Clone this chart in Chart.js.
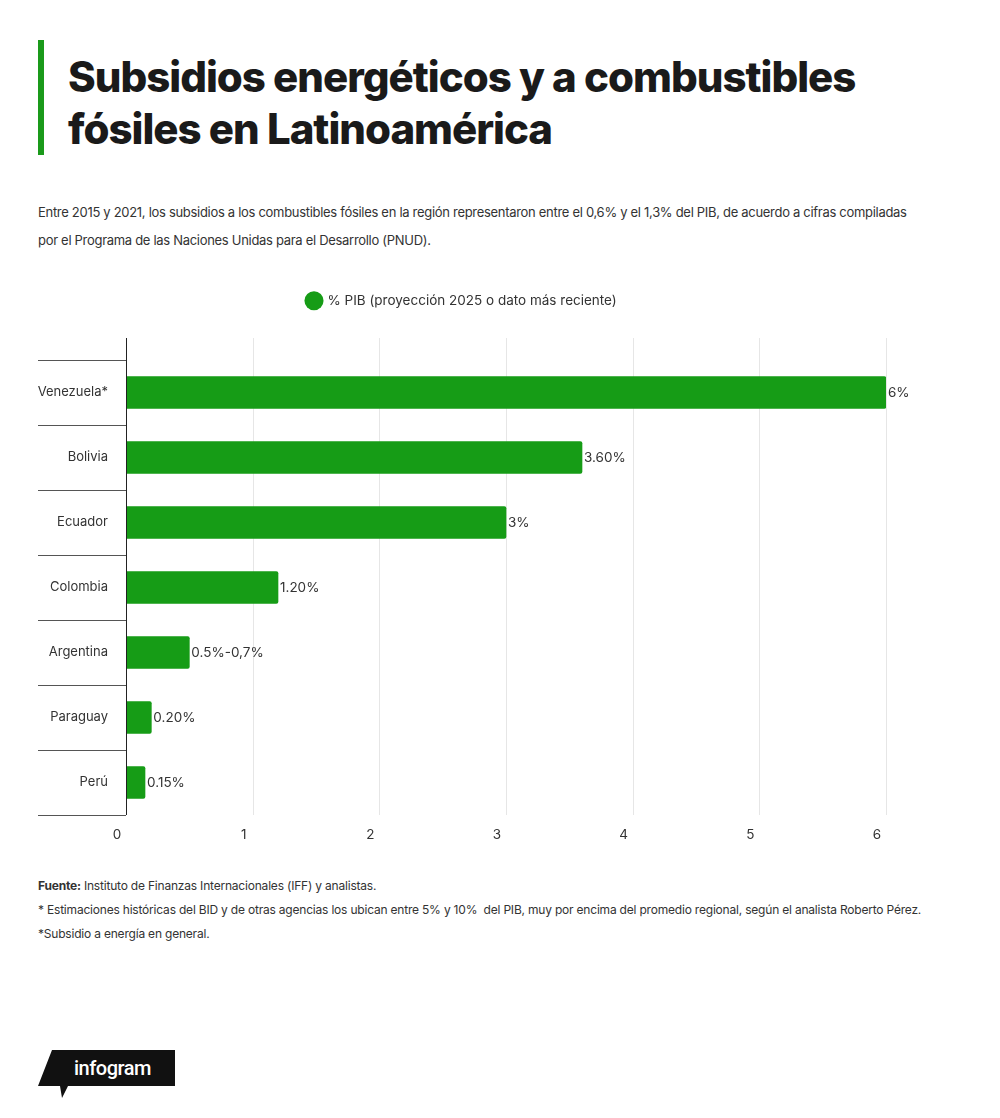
<!DOCTYPE html>
<html><head><meta charset="utf-8">
<script src="https://cdn.jsdelivr.net/npm/chart.js@4"></script>
<style>
body{margin:0;background:#fff;font-family:Inter,"Noto Sans",sans-serif;color:#222;width:1000px;height:1118px;position:relative;overflow:hidden}
.bar{position:absolute;left:38px;top:40px;width:6px;height:115px;background:#1a9a1a}
h1{position:absolute;left:68px;top:51px;margin:0;font-size:42px;line-height:52px;font-weight:800;letter-spacing:-1px;color:#1a1a1a}
.sub{position:absolute;left:38px;top:198px;width:920px;font-size:13px;line-height:28px;color:#333;letter-spacing:-0.3px}
.foot{position:absolute;left:38px;top:874px;font-size:12px;line-height:24px;color:#333;letter-spacing:-0.2px}
#wrap{position:absolute;left:0;top:280px;width:1000px;height:570px}
.logo{position:absolute;left:38px;top:1050px}
</style></head><body>
<div class="bar"></div>
<h1>Subsidios energéticos y a combustibles<br>fósiles en Latinoamérica</h1>
<div class="sub">Entre 2015 y 2021, los subsidios a los combustibles fósiles en la región representaron entre el 0,6% y el 1,3% del PIB, de acuerdo a cifras compiladas<br>por el Programa de las Naciones Unidas para el Desarrollo (PNUD).</div>
<div id="wrap"><canvas id="c"></canvas></div>
<div class="foot"><b>Fuente:</b> Instituto de Finanzas Internacionales (IFF) y analistas.<br>* Estimaciones históricas del BID y de otras agencias los ubican entre 5% y 10%&nbsp; del PIB, muy por encima del promedio regional, según el analista Roberto Pérez.<br>*Subsidio a energía en general.</div>
<svg class="logo" width="140" height="50"><polygon points="14,0 137,0 137,36 30,36 24,48 22,36 0,36" fill="#111"/><text x="36" y="25" fill="#fff" font-family="Roboto,sans-serif" font-size="20" font-weight="500" letter-spacing="-0.5">infogram</text></svg>
<script>
const categories=["Venezuela*","Bolivia","Ecuador","Colombia","Argentina","Paraguay","Perú"];
const values=[6,3.6,3,1.2,0.5,0.2,0.15];
const valueLabels=["6%","3.60%","3%","1.20%","0.5%-0,7%","0.20%","0.15%"];
const xTicks=[0,1,2,3,4,5,6];
const green="#169c16";
const F="13.5px Inter, 'Noto Sans', sans-serif";
const extra={id:"extra",afterDraw(ch){
 const c=ch.ctx,a=ch.chartArea;
 c.save();c.strokeStyle="#222";c.lineWidth=1;
 c.beginPath();c.moveTo(a.left+0.5,a.top-22);c.lineTo(a.left+0.5,a.bottom);c.stroke();
 c.strokeStyle="#555";
 const step=(a.bottom-a.top)/categories.length;
 for(let i=0;i<=categories.length;i++){const yy=Math.round(a.top+i*step)+0.5;c.beginPath();c.moveTo(38,yy);c.lineTo(a.left,yy);c.stroke();}
 c.fillStyle="#333";c.font=F;c.textBaseline="middle";
 ch.getDatasetMeta(0).data.forEach((b,i)=>{c.fillText(valueLabels[i],b.x+2,b.y);});
 c.restore();
},beforeDatasetsDraw(ch){
 const c=ch.ctx,a=ch.chartArea,x=ch.scales.x;
 c.save();c.strokeStyle="#e6e6e6";c.lineWidth=1;
 xTicks.slice(1).forEach(t=>{const xx=Math.round(x.getPixelForValue(t))+0.5;c.beginPath();c.moveTo(xx,a.top-22);c.lineTo(xx,a.bottom);c.stroke();});
 c.restore();
}};
const tf={size:13.5,family:"Inter"};
new Chart(document.getElementById("c"),{type:"bar",
 data:{labels:categories,datasets:[{label:"% PIB (proyección 2025 o dato más reciente)",data:values,backgroundColor:green,borderRadius:2,barThickness:32}]},
 options:{indexAxis:"y",responsive:true,maintainAspectRatio:false,animation:false,
  layout:{padding:{left:38,right:114,top:0,bottom:0}},
  plugins:{tooltip:{enabled:false},legend:{labels:{usePointStyle:true,pointStyle:"circle",boxWidth:14,boxHeight:14,color:"#333",font:tf,padding:14}}},
  scales:{
   x:{min:0,max:6,grid:{display:false},border:{display:false},
      ticks:{stepSize:1,labelOffset:-9,color:"#333",font:tf,padding:4},
      afterFit(s){s.height=35}},
   y:{grid:{display:false},border:{display:false},
      ticks:{color:"#333",font:{size:13,family:"Inter"},padding:10},
      afterFit(s){s.width=88}}
  }},
 plugins:[extra,{id:"legpad",beforeInit(ch){const f=ch.legend.fit;ch.legend.fit=function(){f.bind(ch.legend)();this.height=80;};}}]
});
</script>
</body></html>
